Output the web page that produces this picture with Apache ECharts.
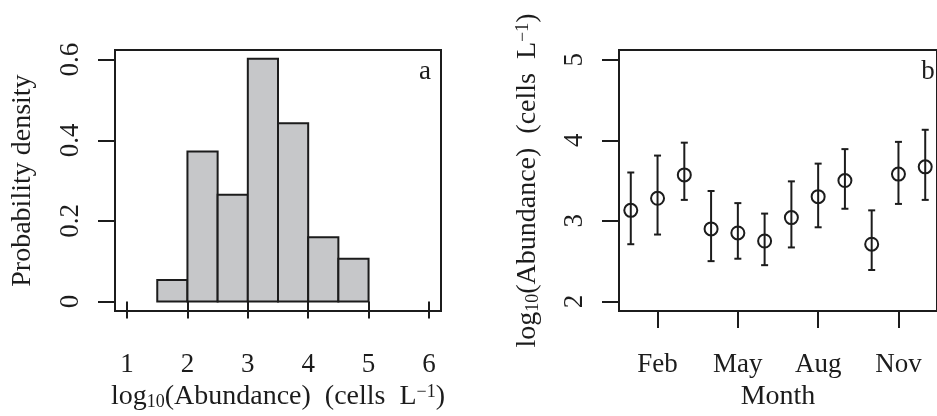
<!DOCTYPE html>
<html><head><meta charset="utf-8">
<script src="https://cdn.jsdelivr.net/npm/echarts@6/dist/echarts.min.js"></script>
<style>html,body{margin:0;padding:0;background:#fff}#c{width:937px;height:416px}</style>
</head><body><div id="c"></div>
<script>
// ---- Panel a: histogram ----
const histBreaks = [1.5, 2, 2.5, 3, 3.5, 4, 4.5, 5];
const histDensity = [0.053, 0.372, 0.265, 0.602, 0.442, 0.159, 0.106];
const histXTicks = [1, 2, 3, 4, 5, 6];
const histYTicks = [0, 0.2, 0.4, 0.6];
const histYTickLabels = ['0', '0.2', '0.4', '0.6'];
// ---- Panel b: monthly means with error bars ----
const months = [1, 2, 3, 4, 5, 6, 7, 8, 9, 10, 11, 12];
const monthMean  = [3.13, 3.28, 3.57, 2.90, 2.85, 2.75, 3.04, 3.30, 3.50, 2.71, 3.58, 3.67];
const monthUpper = [3.60, 3.81, 3.97, 3.37, 3.22, 3.09, 3.49, 3.71, 3.89, 3.13, 3.98, 4.13];
const monthLower = [2.71, 2.83, 3.26, 2.50, 2.53, 2.45, 2.67, 2.92, 3.15, 2.39, 3.21, 3.26];
const monthTicks = [2, 5, 8, 11];
const monthTickLabels = ['Feb', 'May', 'Aug', 'Nov'];
const abYTicks = [2, 3, 4, 5];

const INK = '#1c1c1c';
const FONT = 'Liberation Serif';
const FS = 27;
const txt = {fontFamily: FONT, fontSize: FS, color: INK};
const nameTxt = {fontFamily: FONT, fontSize: 28, color: INK};
const richDef = {
  sub: {fontFamily: FONT, fontSize: 18, color: INK, verticalAlign: 'bottom', lineHeight: 14},
  sup: {fontFamily: FONT, fontSize: 18, color: INK, verticalAlign: 'top', lineHeight: 14}
};
const abundanceName = 'log{sub|10}(Abundance)  (cells  L{sup|\u22121})';

const histData = histDensity.map((d, i) => [histBreaks[i], histBreaks[i + 1], d]);
const errData = months.map((m, i) => [m, monthLower[i], monthUpper[i]]);
const meanData = months.map((m, i) => [m, monthMean[i]]);

const tickStyle = {show: true, inside: false, length: 17, lineStyle: {color: INK, width: 2}};

const chart = echarts.init(document.getElementById('c'), null, {renderer: 'canvas'});
chart.setOption({
  animation: false,
  backgroundColor: '#fff',
  grid: [
    {left: 115, top: 50, width: 326, height: 267, show: true, borderColor: INK, borderWidth: 2, backgroundColor: 'transparent', containLabel: false},
    {left: 619, top: 50, width: 325, height: 267, show: true, borderColor: INK, borderWidth: 2, backgroundColor: 'transparent', containLabel: false}
  ],
  xAxis: [
    {
      gridIndex: 0, type: 'value', min: 0.8, max: 6.2,
      axisLine: {show: false}, splitLine: {show: false},
      axisTick: Object.assign({customValues: histXTicks}, tickStyle),
      axisLabel: Object.assign({customValues: histXTicks, margin: 40, formatter: v => String(v)}, txt),
      name: abundanceName, nameLocation: 'middle', nameGap: 71,
      nameTextStyle: Object.assign({lineHeight: 28, rich: richDef}, nameTxt)
    },
    {
      gridIndex: 1, type: 'value', min: 0.56, max: 12.44,
      axisLine: {show: false}, splitLine: {show: false},
      axisTick: Object.assign({customValues: monthTicks}, tickStyle),
      axisLabel: Object.assign({customValues: monthTicks, margin: 40,
        formatter: v => monthTickLabels[monthTicks.indexOf(Math.round(v))] || ''}, txt),
      name: 'Month', nameLocation: 'middle', nameGap: 71,
      nameTextStyle: Object.assign({lineHeight: 28}, nameTxt)
    }
  ],
  yAxis: [
    {
      gridIndex: 0, type: 'value', min: -0.024, max: 0.624,
      axisLine: {show: false}, splitLine: {show: false},
      axisTick: Object.assign({customValues: histYTicks}, tickStyle),
      axisLabel: Object.assign({customValues: histYTicks, margin: 31, rotate: 90,
        formatter: v => { const k = histYTicks.findIndex(t => Math.abs(t - v) < 1e-6); return k >= 0 ? histYTickLabels[k] : ''; }}, txt),
      name: 'Probability density', nameLocation: 'middle', nameGap: 78,
      nameTextStyle: Object.assign({lineHeight: 28}, nameTxt)
    },
    {
      gridIndex: 1, type: 'value', min: 1.88, max: 5.12,
      axisLine: {show: false}, splitLine: {show: false},
      axisTick: Object.assign({customValues: abYTicks}, tickStyle),
      axisLabel: Object.assign({customValues: abYTicks, margin: 31, rotate: 90, formatter: v => String(v)}, txt),
      name: abundanceName, nameLocation: 'middle', nameGap: 77,
      nameTextStyle: Object.assign({lineHeight: 28, rich: richDef}, nameTxt)
    }
  ],
  graphic: [
    {type: 'text', x: 425, y: 72, style: {text: 'a', align: 'center', verticalAlign: 'middle', fill: INK, font: FS + 'px "' + FONT + '"'}},
    {type: 'text', x: 928, y: 72, style: {text: 'b', align: 'center', verticalAlign: 'middle', fill: INK, font: FS + 'px "' + FONT + '"'}}
  ],
  series: [
    {
      type: 'custom', xAxisIndex: 0, yAxisIndex: 0, data: histData,
      encode: {x: [0, 1], y: 2},
      renderItem: (params, api) => {
        const p0 = api.coord([api.value(0), 0]);
        const p1 = api.coord([api.value(1), api.value(2)]);
        return {type: 'rect',
          shape: {x: p0[0], y: p1[1], width: p1[0] - p0[0], height: p0[1] - p1[1]},
          style: {fill: '#c6c7c9', stroke: INK, lineWidth: 2}};
      }
    },
    {
      type: 'custom', xAxisIndex: 1, yAxisIndex: 1, data: errData, z: 2,
      encode: {x: 0, y: [1, 2]},
      renderItem: (params, api) => {
        const lo = api.coord([api.value(0), api.value(1)]);
        const hi = api.coord([api.value(0), api.value(2)]);
        const hw = 3.5;
        const st = {stroke: INK, lineWidth: 2};
        return {type: 'group', children: [
          {type: 'line', shape: {x1: lo[0], y1: lo[1], x2: hi[0], y2: hi[1]}, style: st},
          {type: 'line', shape: {x1: lo[0] - hw, y1: lo[1], x2: lo[0] + hw, y2: lo[1]}, style: st},
          {type: 'line', shape: {x1: hi[0] - hw, y1: hi[1], x2: hi[0] + hw, y2: hi[1]}, style: st}
        ]};
      }
    },
    {
      type: 'scatter', xAxisIndex: 1, yAxisIndex: 1, data: meanData, z: 5,
      symbol: 'circle', symbolSize: 13,
      itemStyle: {color: 'rgba(0,0,0,0)', borderColor: INK, borderWidth: 2, opacity: 1},
      emphasis: {disabled: true}
    }
  ]
});
</script></body></html>
